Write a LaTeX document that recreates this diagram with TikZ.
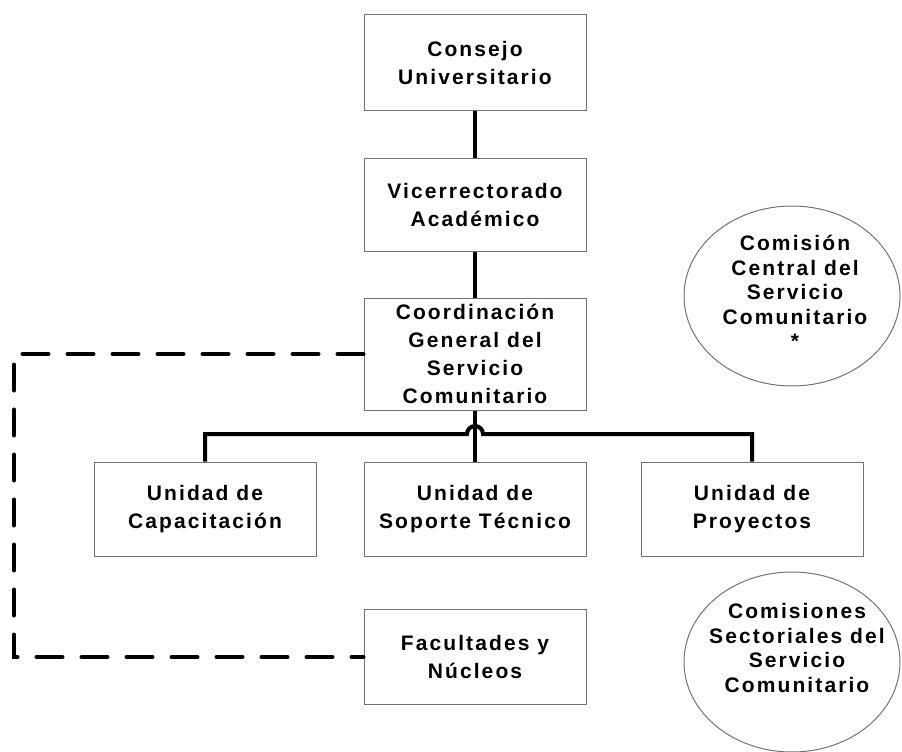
\documentclass[tikz,border=0pt]{standalone}
\usepackage{fontspec}
\usetikzlibrary{shapes.geometric}
\newfontfamily\lblfont[LetterSpace=10]{Liberation Sans Bold}
\definecolor{boxgray}{gray}{0.45}
\begin{document}
\begin{tikzpicture}[x=1pt,y=1pt,
  box/.style={draw=boxgray, line width=1pt, minimum width=222pt, align=center,
    font=\lblfont\fontsize{21}{28}\selectfont, inner sep=0pt},
  conn/.style={line width=4pt},
  dashconn/.style={line width=4pt, dash pattern=on 26pt off 19pt, line cap=round},
  ell/.style={draw=boxgray, ellipse, line width=1pt, inner sep=0pt},
  elltext/.style={align=center, inner sep=0pt, font=\lblfont\fontsize{21}{24.5}\selectfont}]
\useasboundingbox (0,0) rectangle (902,-752);
\node[box, minimum height=95pt] (cu) at (475,-62.5) {Consejo\\Universitario};
\node[box, minimum height=93pt] (va) at (475,-204.5) {Vicerrectorado\\Académico};
\node[box, minimum height=112pt] (cg) at (475,-354) {Coordinación\\General del\\Servicio\\Comunitario};
\node[box, minimum height=94pt] (uc) at (205,-509) {Unidad de\\Capacitación};
\node[box, minimum height=94pt] (us) at (475,-509) {Unidad de\\Soporte Técnico};
\node[box, minimum height=94pt] (up) at (752,-509) {Unidad de\\Proyectos};
\node[box, minimum height=95pt] (fn) at (475,-657) {Facultades y\\Núcleos};
\node[ell, minimum width=216pt, minimum height=180pt] (e1) at (792,-296) {};
\node[elltext] (t1) at (795,-292) {Comisión\\Central del\\Servicio\\Comunitario\\*};
\node[ell, minimum width=216pt, minimum height=180pt] (e2) at (792,-662) {};
\node[elltext] (t2) at (797,-648) {Comisiones\\Sectoriales del\\Servicio\\Comunitario};
\draw[conn] (cu.south) -- (va.north);
\draw[conn] (va.south) -- (cg.north);
\draw[conn] (cg.south) -- (us.north);
\coordinate (bar) at (475,-434);
\draw[conn] (uc.north) |- ([xshift=-8pt]bar) arc[start angle=180,end angle=0,radius=8pt] -| (up.north);
\coordinate (dc) at (14,-500);
\draw[dashconn] (cg.west) -| (dc) |- (fn.west);
\end{tikzpicture}
\end{document}
